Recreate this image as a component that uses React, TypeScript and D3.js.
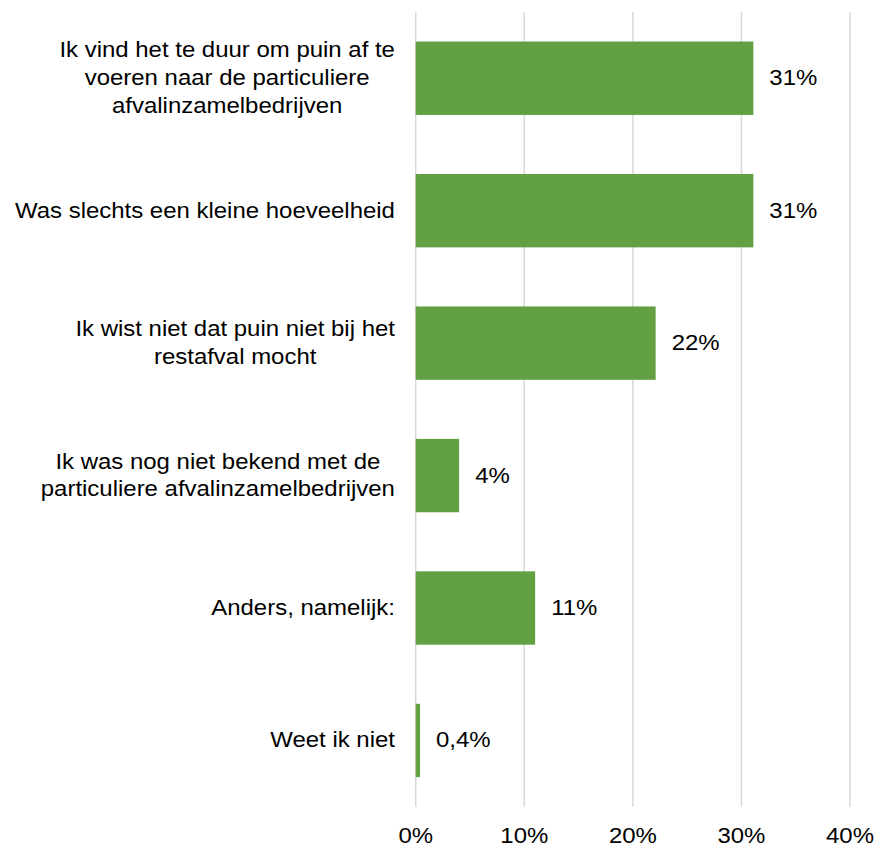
import React from "react";
import * as d3 from "d3";

const categories: string[][] = [
  ["Ik vind het te duur om puin af te", "voeren naar de particuliere", "afvalinzamelbedrijven"],
  ["Was slechts een kleine hoeveelheid"],
  ["Ik wist niet dat puin niet bij het", "restafval mocht"],
  ["Ik was nog niet bekend met de", "particuliere afvalinzamelbedrijven"],
  ["Anders, namelijk:"],
  ["Weet ik niet"],
];
const values: number[] = [31.1, 31.1, 22.1, 4, 11, 0.4];
const valueLabels: string[] = ["31%", "31%", "22%", "4%", "11%", "0,4%"];
const ticks: number[] = [0, 10, 20, 30, 40];
const tickLabels: string[] = ["0%", "10%", "20%", "30%", "40%"];

const W = 877;
const H = 846;
const FONT = "'Liberation Sans', Arial, sans-serif";
const FS = 22.5;
const SX = 1.065;

function measure(text: string): number {
  const c = document.createElement("canvas").getContext("2d");
  if (!c) return text.length * FS * 0.5 * SX;
  c.font = `${FS}px ${FONT}`;
  return c.measureText(text).width * SX;
}

type TProps = { x: number; y: number; anchor?: string; children: React.ReactNode };
function T({ x, y, anchor = "start", children }: TProps) {
  return (
    <g transform={`translate(${x},${y}) scale(${SX},1)`}>
      <text x={0} y={0} textAnchor={anchor} fill="#000">
        {children}
      </text>
    </g>
  );
}

export default function App() {
  const x = d3.scaleLinear().domain([0, 40]).range([415.7, 850]);
  const y = d3
    .scaleBand<number>()
    .domain(d3.range(categories.length))
    .range([12, 806.7])
    .paddingInner(0.446)
    .paddingOuter(0.223);
  const labelRight = 395;
  const lineH = 27.8;
  const base = FS * 0.31;

  return (
    <svg
      width={W}
      height={H}
      style={{ position: "absolute", left: 0, top: 0, background: "#fff" }}
      fontFamily={FONT}
      fontSize={FS}
    >
      {ticks.map((t, i) => (
        <g key={t}>
          <line x1={x(t)} x2={x(t)} y1={12} y2={806.7} stroke="#D9D9D9" strokeWidth={1.5} />
          <T x={x(t)} y={842.5} anchor="middle">
            {tickLabels[i]}
          </T>
        </g>
      ))}
      {values.map((v, i) => {
        const by = y(i)!;
        const bh = y.bandwidth();
        const cy = by + bh / 2;
        return (
          <g key={i}>
            <rect x={x(0)} y={by} width={x(v) - x(0)} height={bh} fill="#62A043" />
            <T x={x(v) + 16} y={cy + base}>
              {valueLabels[i]}
            </T>
          </g>
        );
      })}
      {categories.map((lines, i) => {
        const cy = y(i)! + y.bandwidth() / 2;
        const maxW = Math.max(...lines.map(measure));
        const cx = labelRight - maxW / 2;
        const n = lines.length;
        return (
          <g key={i}>
            {lines.map((l, j) => (
              <T key={j} x={cx} y={cy + base + (j - (n - 1) / 2) * lineH} anchor="middle">
                {l}
              </T>
            ))}
          </g>
        );
      })}
    </svg>
  );
}
